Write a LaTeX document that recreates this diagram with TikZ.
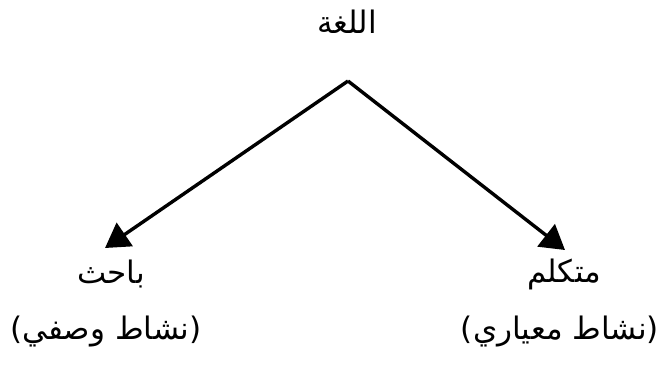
\documentclass[tikz,border=0pt]{standalone}
\usepackage{fontspec}
\newfontfamily\arabicfont[Script=Arabic]{DejaVu Sans}
\TeXXeTstate=1
\usetikzlibrary{arrows.meta}
\begin{document}
\begin{tikzpicture}[x=0.5pt,y=-0.5pt,
  lbl/.style={inner sep=0pt,font=\arabicfont\fontsize{15.5}{18}\selectfont},
  conn/.style={line width=1.7pt,-{Triangle[length=12pt,width=14pt]}}]
\useasboundingbox (0,0) rectangle (664,365);
\node[lbl] (top) at (347,22) {\beginR اللغة\endR};
\coordinate (apex) at (348,81);
\coordinate (ltip) at (105,248);
\coordinate (rtip) at (565,250);
\node[lbl] (l1) at (111,274) {\beginR باحث\endR};
\node[lbl] (l2) at (106,332) {)\beginR نشاط وصفي\endR(};
\node[lbl] (r1) at (564,274) {\beginR متكلم\endR};
\node[lbl] (r2) at (560,332) {)\beginR نشاط معياري\endR(};
\draw[conn] (apex) -- (ltip);
\draw[conn] (apex) -- (rtip);
\end{tikzpicture}
\end{document}
